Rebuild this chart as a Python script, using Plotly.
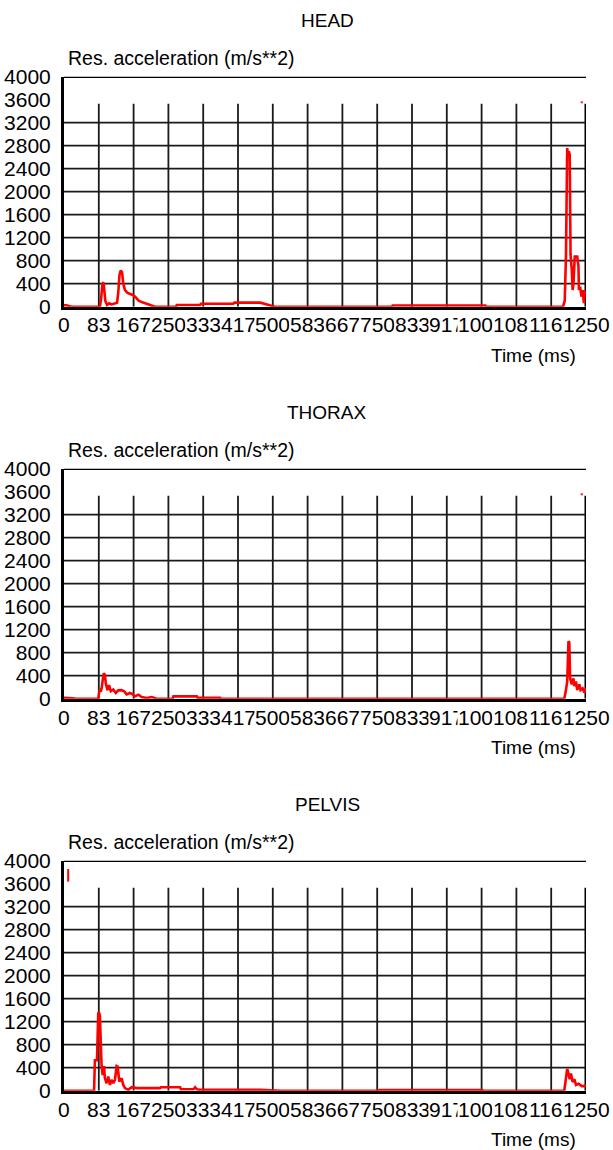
import plotly.graph_objects as go

# ---------------- data ----------------
titles = ["HEAD", "THORAX", "PELVIS"]
y_label = "Res. acceleration (m/s**2)"
x_label = "Time (ms)"

x_tick_vals = [0, 83.33, 166.67, 250, 333.33, 416.67, 500, 583.33, 666.67, 750,
               833.33, 916.67, 1000, 1083.33, 1166.67, 1250]
x_tick_text = ["0", "83", "167", "250", "333", "417", "500", "583", "667", "750",
               "833", "917", "1000", "1083", "1167", "1250"]
y_tick_vals = [0, 400, 800, 1200, 1600, 2000, 2400, 2800, 3200, 3600, 4000]
y_grid_vals = [400, 800, 1200, 1600, 2000, 2400, 2800, 3200]

head_t = [0, 5, 12, 18, 86, 89, 92, 95, 97, 99, 103, 108, 114, 120, 127, 130, 133, 136,
          139, 142, 146, 152, 160, 166, 172, 178, 186, 194, 202, 210, 218, 268, 270, 326,
          328, 405, 408, 470, 485, 505, 785, 787, 1009, 1011, 1195, 1199, 1202, 1205,
          1207, 1209, 1211, 1213, 1216, 1218, 1220, 1223, 1229, 1232, 1233, 1236, 1239,
          1242, 1245, 1247, 1250]
head_v = [25, 25, 10, 0, 0, 150, 400, 420, 250, 100, 30, 60, 40, 60, 70, 250, 560, 630,
          600, 400, 290, 240, 220, 200, 160, 110, 80, 60, 50, 20, 0, 0, 30, 30,
          50, 50, 70, 70, 40, 0, 0, 20, 20, 0, 0, 100, 870, 2760,
          2610, 2700, 2650, 900, 640, 290, 400, 870, 870, 700, 290, 350, 175,
          290, 60, 260, 250]

thorax_t = [0, 10, 20, 30, 82, 85, 88, 90, 93, 95, 98, 100, 104, 108, 112, 118, 124, 130,
            138, 144, 150, 158, 164, 170, 178, 186, 198, 210, 222, 260, 262, 318, 320, 374,
            376, 590, 600, 1000, 1005, 1198, 1202, 1205, 1208, 1210, 1212, 1216, 1220,
            1222, 1226, 1229, 1234, 1237, 1242, 1246, 1250]
thorax_v = [15, 15, 5, 0, 0, 150, 120, 180, 300, 440, 420, 270, 150, 235, 130, 160, 100, 145,
            150, 130, 75, 100, 80, 40, 70, 30, 10, 30, 0, 0, 40, 40, 15, 15,
            0, 0, 10, 10, 0, 0, 150, 300, 1000, 980, 355, 250, 355,
            220, 300, 150, 250, 150, 180, 110, 180]

pelvis_t = [0, 72, 74, 79, 82, 84, 86, 87, 88, 90, 92.6, 95.8, 98, 102, 106, 110, 114, 118,
            122, 126, 128.5, 132.5, 138, 142, 146, 154, 162, 174, 230, 232, 278, 280, 310,
            314, 318, 326, 470, 500, 520, 750, 755, 1000, 1005, 1198, 1202, 1205, 1208,
            1211, 1214, 1218, 1222, 1226, 1232, 1240, 1250]
pelvis_v = [0, 0, 530, 530, 1346, 1360, 1300, 940, 600, 430, 273, 430, 215, 130, 245, 100, 190, 130,
            190, 430, 420, 160, 215, 100, 45, 15, 60, 45, 45, 60, 60, 25, 25,
            60, 25, 15, 15, 10, 0, 0, 10, 10, 0, 0, 200, 380, 300,
            200, 300, 150, 200, 100, 120, 80, 80]

# stray red dots seen near the top of each panel
dots_t = [[1240, 1268], [1240, 1268], [10]]
dots_v = [[3555, 3555], [3555, 3555], [3745]]

series_t = [head_t, thorax_t, pelvis_t]
series_v = [head_v, thorax_v, pelvis_v]

# ---------------- layout geometry (pixels) ----------------
W, H = 613, 1150
FONT = "Liberation Sans, Arial, sans-serif"
X0, X1 = 64, 586
PANEL_STEP = 392
TOP0, BOT0 = 76.7, 306.7


def py(p):
    return 1 - p / H


fig = go.Figure()
annotations = []
shapes = []

for i in range(3):
    off = PANEL_STEP * i
    xa = "x" if i == 0 else f"x{i+1}"
    ya = "y" if i == 0 else f"y{i+1}"
    xkey = "xaxis" if i == 0 else f"xaxis{i+1}"
    ykey = "yaxis" if i == 0 else f"yaxis{i+1}"

    fig.add_trace(go.Scatter(x=series_t[i], y=series_v[i], mode="lines",
                             line=dict(color="#ff0000", width=2.6),
                             xaxis=xa, yaxis=ya, showlegend=False,
                             hoverinfo="skip"))
    fig.add_trace(go.Scatter(x=dots_t[i], y=dots_v[i], mode="markers",
                             marker=dict(color="#ff4040",
                                         size=2.5 if i < 2 else 9,
                                         symbol="circle" if i < 2 else "line-ns",
                                         line=dict(color="#ff0000", width=2 if i == 2 else 0)),
                             cliponaxis=False, xaxis=xa, yaxis=ya,
                             showlegend=False, hoverinfo="skip"))

    fig.layout[xkey] = dict(
        domain=[X0 / W, X1 / W], range=[0, 1250], anchor=ya, automargin=False,
        showgrid=False, zeroline=False, showline=True, linecolor="black",
        linewidth=3, showticklabels=False, ticks="", layer="below traces",
        fixedrange=True)
    fig.layout[ykey] = dict(
        domain=[py(BOT0 + off), py(TOP0 + off)], range=[0, 4000], anchor=xa,
        automargin=False,
        showgrid=False, zeroline=False, showline=True, linecolor="black",
        linewidth=3, tickmode="array", tickvals=y_tick_vals,
        ticktext=[str(v) for v in y_tick_vals], ticks="",
        ticklabelstandoff=6, tickfont=dict(family=FONT, size=21, color="black"),
        layer="below traces", fixedrange=True)

    # vertical grid lines (stop short of the top border)
    for xv in x_tick_vals[1:-1]:
        shapes.append(dict(type="line", xref=xa, yref=ya, x0=xv, x1=xv, y0=0, y1=3530,
                           line=dict(color="#1a1a1a", width=1.8), layer="below"))
    # horizontal grid lines
    for yv in y_grid_vals:
        shapes.append(dict(type="line", xref=xa, yref=ya, x0=0, x1=1250, y0=yv, y1=yv,
                           line=dict(color="#1a1a1a", width=1.8), layer="below"))
    # top border and right border
    shapes.append(dict(type="line", xref=xa, yref=ya, x0=0, x1=1250, y0=4000, y1=4000,
                       line=dict(color="black", width=2.6), layer="below"))
    shapes.append(dict(type="line", xref=xa, yref=ya, x0=1250, x1=1250, y0=0, y1=3530,
                       line=dict(color="black", width=3), layer="below"))

    # panel title
    annotations.append(dict(text=titles[i], xref="paper", yref="paper",
                            x=327 / W, y=py(20 + off), xanchor="center", yanchor="middle",
                            showarrow=False, font=dict(family=FONT, size=19, color="black")))
    # y label
    annotations.append(dict(text=y_label, xref="paper", yref="paper",
                            x=66 / W, y=py(58 + off), xanchor="left", yanchor="middle",
                            showarrow=False, font=dict(family=FONT, size=19.5, color="black")))
    # x label
    annotations.append(dict(text=x_label, xref="paper", yref="paper",
                            x=578 / W, y=py(355 + off), xanchor="right", yanchor="middle",
                            showarrow=False, font=dict(family=FONT, size=19, color="black")))
    # x tick labels (drawn in order, each masking the previous one like the original)
    for xv, xt in zip(x_tick_vals, x_tick_text):
        annotations.append(dict(text=xt, xref=xa, yref="paper", x=xv, y=py(325 + off),
                                xanchor="center", yanchor="middle", showarrow=False,
                                bgcolor="white", borderpad=0,
                                font=dict(family=FONT, size=21, color="black")))

fig.update_layout(width=W, height=H,
                  margin=dict(l=0, r=0, t=0, b=0, pad=0, autoexpand=False),
                  paper_bgcolor="white", plot_bgcolor="white",
                  annotations=annotations, shapes=shapes, showlegend=False)

fig.write_html("out.html", config={"displayModeBar": False, "staticPlot": True},
               post_script="document.body.style.margin='0px';")
